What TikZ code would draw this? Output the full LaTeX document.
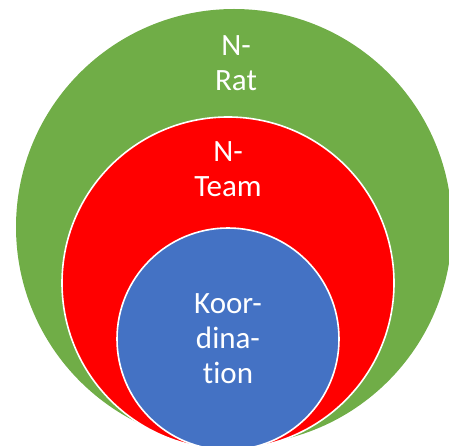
\documentclass[tikz,border=0pt]{standalone}
\usepackage{fontspec}
\setmainfont[Ligatures=NoCommon]{Carlito}
\definecolor{ratgreen}{HTML}{70AD47}
\definecolor{teamred}{HTML}{FF0000}
\definecolor{koorblue}{HTML}{4472C4}
\begin{document}
\begin{tikzpicture}[x=1pt,y=-1pt,
    ring/.style={circle,inner sep=0pt,outer sep=0pt},
    ringtext/.style={text=white,align=center,inner sep=0pt,
      font=\fontsize{31}{35}\selectfont}]
  \useasboundingbox (0,0) rectangle (449,446);
  \clip (0,0) rectangle (449,446);

  \node[ring,fill=ratgreen,minimum size=436pt] (Rat) at (234,227) {};
  \node[ring,fill=teamred,draw=white,line width=1.6pt,minimum size=332pt] (Team) at (228,283) {};
  \node[ring,fill=koorblue,draw=white,line width=1.6pt,minimum size=222pt,
        ringtext] (Koor) at (228,339) {Koor-\\dina-\\tion};

  \node[ringtext,anchor=north] (RatText) at (236,35.5) {N-\\Rat};
  \node[ringtext,anchor=north] (TeamText) at (228,141.5) {N-\\Team};
\end{tikzpicture}
\end{document}
